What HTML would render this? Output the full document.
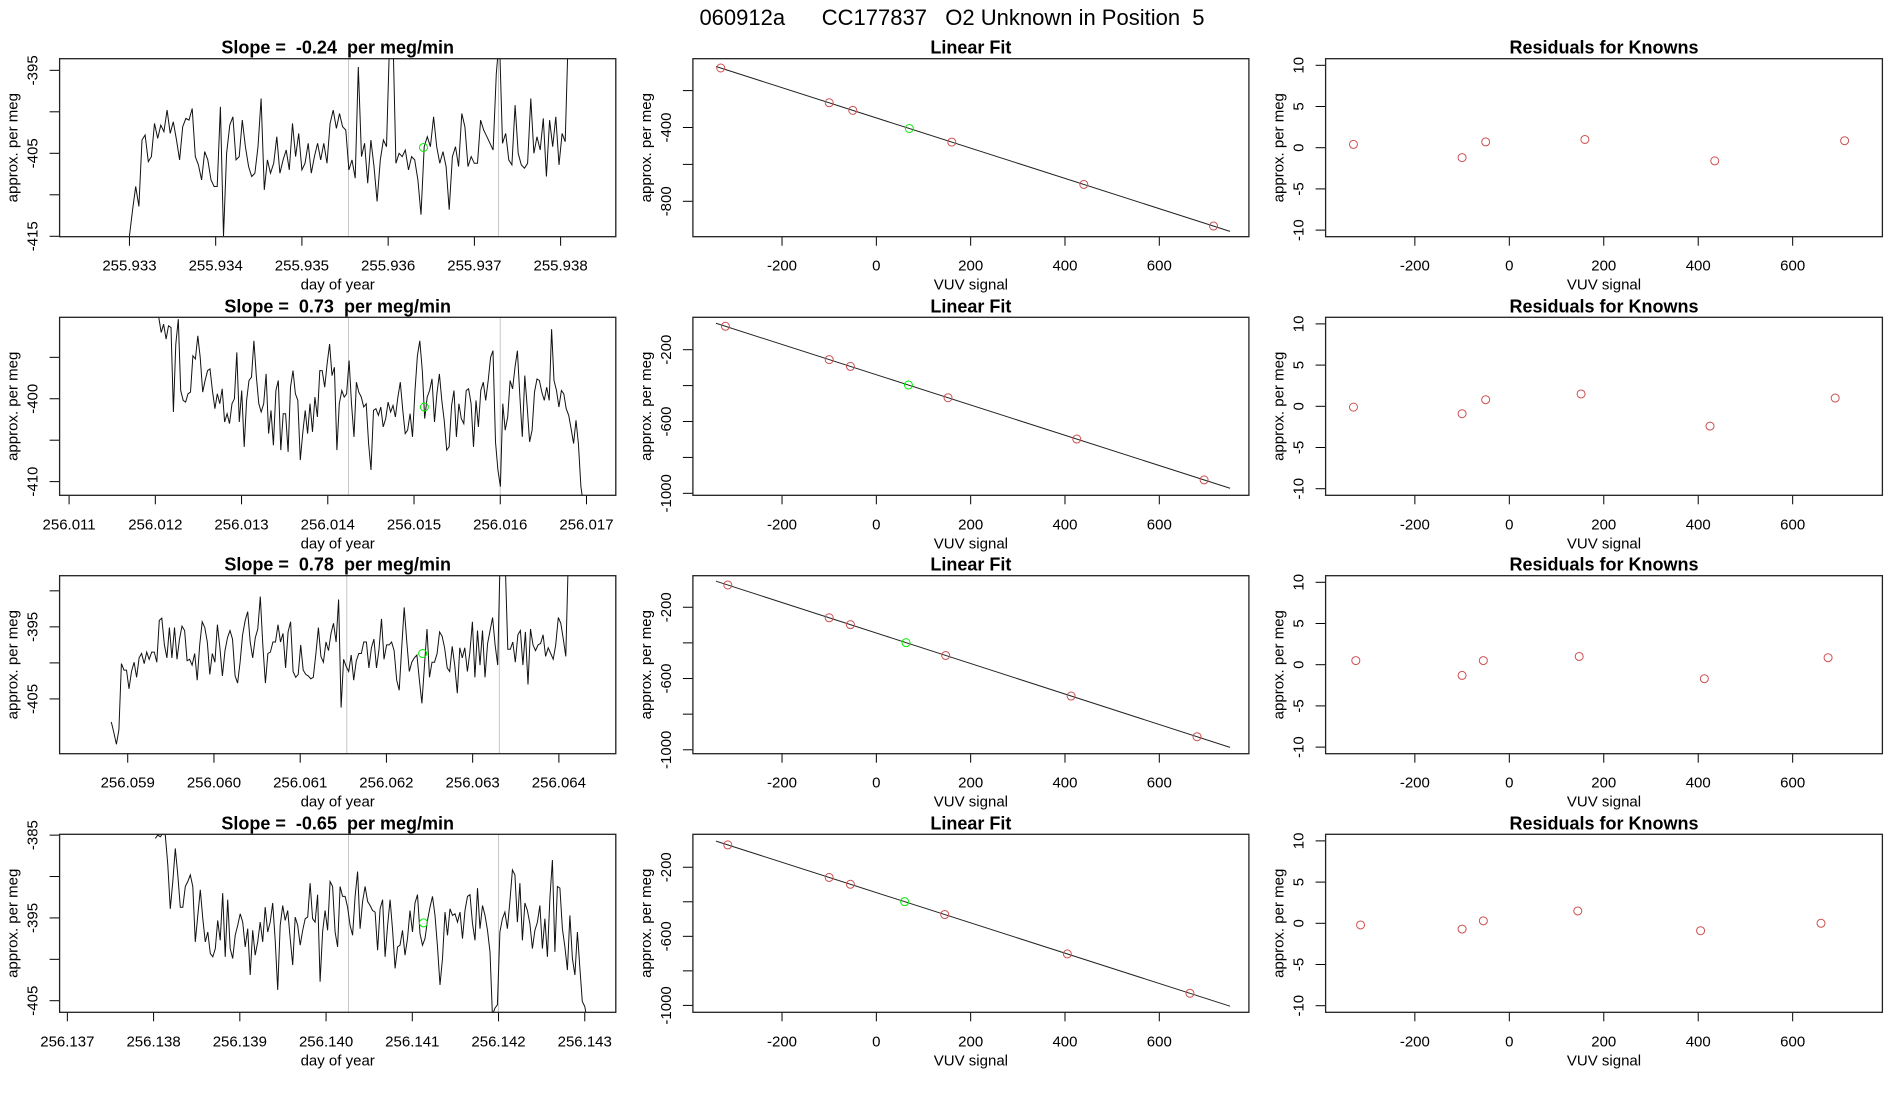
<!DOCTYPE html>
<html><head><meta charset="utf-8"><style>
html,body{margin:0;padding:0;background:#fff;}
svg{display:block;font-family:"Liberation Sans",Arial,sans-serif;}
svg text{white-space:pre;}
</style></head><body>
<svg id="fig" width="1900" height="1100" viewBox="0 0 1900 1100" xmlns="http://www.w3.org/2000/svg">
<rect x="0" y="0" width="1900" height="1100" fill="#fff"/>
<text x="952" y="25" font-size="22" text-anchor="middle" xml:space="preserve">060912a      CC177837   O2 Unknown in Position  5</text>
</svg>
<script>
// ---------- data ----------
const slopes = ["-0.24", "0.73", "0.78", "-0.65"];
const tsStart = [255.933, 256.01204, 256.05881, 256.13802];
const tsEnd = [255.93809, 256.01702, 256.06411, 256.14303];
const ts1 = [-415.0,-411.8,-409.0,-411.4,-403.4,-402.8,-406.0,-405.4,-401.4,-403.2,-401.6,-402.4,-399.8,-402.6,-401.2,-403.4,-405.8,-401.8,-400.8,-401.0,-399.6,-405.4,-406.4,-408.2,-404.8,-405.8,-408.2,-409.0,-409.0,-399.4,-415.0,-405.0,-401.6,-400.6,-405.8,-405.4,-401.0,-404.2,-406.6,-407.8,-407.4,-404.2,-398.4,-409.4,-405.8,-407.4,-406.2,-403.0,-407.4,-405.8,-404.6,-407.0,-401.4,-405.4,-402.6,-407.0,-406.2,-403.8,-407.4,-405.4,-403.8,-405.8,-403.8,-406.2,-401.4,-399.8,-402.0,-400.2,-401.8,-402.2,-407.0,-405.8,-408.0,-394.6,-405.4,-403.8,-408.6,-403.4,-406.6,-410.8,-405.8,-403.4,-404.2,-391.0,-390.0,-406.2,-405.0,-405.4,-404.6,-407.0,-405.4,-405.8,-408.2,-412.4,-404.2,-403.0,-404.2,-400.6,-404.2,-406.2,-404.8,-406.6,-411.8,-405.4,-404.2,-406.6,-400.2,-401.8,-406.6,-405.4,-406.2,-406.2,-401.0,-402.2,-403.0,-403.8,-404.6,-395.4,-391.0,-403.8,-402.6,-405.8,-406.4,-399.2,-405.0,-406.4,-406.8,-406.2,-398.4,-405.0,-403.0,-404.6,-400.8,-407.8,-401.0,-404.2,-400.6,-406.4,-402.6,-403.6,-390.0];
const ts2 = [-390.2,-392.0,-391.0,-392.8,-391.2,-391.4,-401.6,-393.4,-390.4,-399.0,-400.2,-400.4,-399.4,-399.2,-394.8,-395.2,-392.4,-395.0,-399.2,-397.8,-396.6,-396.4,-399.0,-401.2,-399.4,-400.6,-398.8,-402.8,-401.8,-403.0,-400.6,-400.0,-394.4,-402.8,-399.0,-405.8,-400.2,-397.8,-397.4,-393.0,-397.4,-400.6,-401.6,-400.6,-397.0,-404.2,-401.4,-405.6,-399.0,-397.8,-406.2,-401.8,-401.8,-406.4,-398.6,-396.6,-399.4,-400.2,-407.4,-404.2,-401.4,-404.2,-400.6,-404.0,-399.8,-402.2,-396.6,-396.6,-398.6,-395.8,-393.4,-397.2,-396.2,-406.2,-400.6,-399.0,-399.8,-399.4,-395.4,-400.6,-404.6,-398.0,-399.2,-399.8,-401.0,-400.6,-405.4,-408.6,-401.4,-401.2,-402.0,-401.0,-403.4,-402.4,-400.4,-401.6,-400.8,-402.2,-399.8,-398.0,-401.4,-404.2,-403.8,-401.8,-404.6,-399.0,-394.8,-393.0,-396.6,-402.4,-399.8,-399.0,-397.6,-402.8,-399.4,-397.0,-400.2,-402.6,-406.2,-405.8,-400.8,-399.0,-404.6,-400.6,-402.4,-403.0,-399.0,-398.8,-400.6,-405.8,-400.2,-403.4,-399.0,-398.0,-400.2,-397.8,-395.0,-394.2,-405.2,-408.6,-410.6,-400.6,-403.8,-402.2,-397.8,-398.8,-396.2,-394.2,-399.8,-404.6,-397.2,-401.0,-405.2,-403.8,-399.2,-397.6,-397.8,-399.2,-400.2,-398.6,-400.2,-391.6,-397.8,-399.0,-401.0,-399.0,-399.4,-401.2,-402.0,-403.6,-405.4,-402.6,-405.4,-410.6,-412.7,-411.8,-415.0];
const ts3 = [-408.2,-409.7,-411.3,-409.3,-400.1,-401.0,-401.0,-403.6,-401.2,-399.9,-402.0,-399.3,-398.7,-400.1,-398.5,-399.5,-398.5,-398.5,-399.9,-394.1,-393.8,-397.5,-399.3,-395.1,-399.3,-395.1,-399.5,-396.7,-394.9,-395.5,-399.7,-399.5,-400.3,-398.7,-402.4,-397.5,-394.3,-395.1,-397.1,-401.6,-398.7,-399.9,-394.7,-397.9,-401.8,-398.3,-396.5,-395.5,-396.7,-401.8,-402.8,-399.9,-396.1,-394.1,-392.9,-397.1,-399.3,-396.5,-395.3,-390.8,-397.5,-402.8,-398.7,-398.5,-397.1,-397.1,-394.7,-397.1,-395.9,-400.7,-395.7,-394.3,-401.2,-402.0,-401.6,-397.5,-401.0,-401.6,-401.8,-402.2,-402.0,-398.7,-395.1,-399.1,-399.9,-397.1,-398.3,-395.9,-394.5,-397.1,-391.2,-406.2,-399.5,-400.5,-401.2,-398.9,-402.4,-399.7,-398.7,-398.7,-397.1,-397.1,-400.7,-397.9,-396.7,-400.7,-398.1,-393.9,-399.5,-397.5,-397.5,-397.1,-398.3,-402.4,-403.8,-397.9,-392.3,-397.1,-401.2,-399.9,-399.3,-398.9,-402.4,-405.6,-400.5,-395.3,-402.0,-399.9,-399.9,-398.7,-395.7,-396.3,-397.9,-400.7,-401.2,-397.7,-400.3,-404.2,-397.9,-399.3,-397.9,-401.2,-398.5,-394.3,-402.0,-395.5,-400.3,-395.5,-402.0,-397.3,-395.5,-393.7,-397.5,-400.3,-385.0,-385.0,-386.0,-398.1,-398.1,-397.1,-399.9,-396.1,-395.5,-400.3,-395.7,-403.0,-395.3,-397.5,-398.3,-397.5,-397.3,-396.1,-399.1,-397.9,-398.7,-399.5,-397.5,-393.7,-394.5,-396.7,-399.1,-385.0];
const ts4 = [-385.4,-385.0,-385.2,-384.8,-385.0,-388.6,-393.9,-390.6,-386.6,-389.8,-393.7,-393.7,-391.2,-390.6,-389.8,-391.2,-397.9,-394.7,-391.6,-395.1,-397.9,-396.7,-399.3,-399.7,-398.7,-395.3,-397.7,-392.0,-399.7,-392.8,-398.7,-399.9,-397.1,-395.9,-394.5,-395.5,-398.5,-396.3,-401.9,-396.5,-399.5,-397.9,-395.5,-397.9,-393.7,-396.7,-395.5,-393.2,-397.7,-403.7,-395.9,-393.5,-395.3,-394.1,-397.5,-400.7,-394.9,-395.9,-398.3,-396.5,-395.1,-394.9,-390.8,-395.1,-395.5,-392.2,-402.7,-396.7,-394.1,-396.5,-390.6,-391.2,-396.7,-398.5,-391.2,-392.4,-392.4,-393.7,-395.9,-397.1,-392.4,-389.4,-396.3,-393.0,-391.2,-393.0,-393.5,-394.1,-394.3,-398.9,-393.9,-392.8,-399.7,-395.9,-392.8,-396.5,-401.1,-398.5,-398.3,-396.5,-399.5,-397.5,-394.1,-396.7,-393.2,-392.2,-396.9,-398.3,-397.5,-395.3,-393.7,-392.4,-394.7,-398.5,-403.1,-399.9,-394.3,-397.1,-393.9,-394.7,-394.5,-395.5,-394.3,-397.5,-394.1,-392.4,-392.2,-395.7,-397.7,-391.4,-396.3,-393.5,-394.7,-396.5,-399.1,-406.7,-405.9,-405.5,-396.7,-395.1,-394.3,-396.3,-393.0,-389.2,-389.8,-395.5,-390.8,-397.7,-393.2,-394.1,-395.7,-398.7,-396.5,-395.5,-393.5,-398.7,-395.1,-399.7,-392.6,-388.0,-399.1,-391.2,-391.4,-396.3,-398.5,-401.3,-394.7,-399.9,-401.9,-396.7,-401.1,-405.1,-405.7,-407.5];
const tsSeries = [ts1, ts2, ts3, ts4];
const unkTime = [255.93641, 256.01512, 256.06242, 256.14113];
const unkValue = [-404.3, -401.0, -398.7, -395.6];
const refLineA = [255.93554, 256.01424, 256.06154, 256.14026];
const refLineB = [255.93728, 256.01600, 256.06331, 256.14200];
const tsXTicks = [
  [255.933,255.934,255.935,255.936,255.937,255.938],
  [256.011,256.012,256.013,256.014,256.015,256.016,256.017],
  [256.059,256.060,256.061,256.062,256.063,256.064],
  [256.137,256.138,256.139,256.140,256.141,256.142,256.143]];
const tsYTicks = [[-395,-400,-405,-410,-415],[-395,-400,-405,-410],[-390,-395,-400,-405],[-385,-390,-395,-400,-405]];
const tsYLabels = [[-395,-405,-415],[-400,-410],[-395,-405],[-385,-395,-405]];
const tsXDomain = [[255.93219,255.93864],[256.01089,256.01734],[256.05821,256.06466],[256.13691,256.14336]];
const tsYDomain = [[-415.05,-393.6],[-411.65,-390.17],[-412.6,-387.9],[-406.4,-384.9]];

const knownX = [[-330,-100,-50,160,440,715],[-320,-100,-55,152,425,695],[-315,-100,-55,147,413,680],[-315,-100,-55,145,405,665]];
const unkX = [70, 68, 63, 60];
const fitSlope = [-0.82, -0.843, -0.856, -0.877];
const fitIntercept = [-348, -339.4, -344.7, -346.8];
const fitYDomain = [[-992,-27],[-1011,-19.5],[-1022,-22.9],[-1040,-9.2]];
const fitYTicks = [[-200,-400,-600,-800],[-200,-400,-600,-800,-1000],[-200,-400,-600,-800,-1000],[-200,-400,-600,-800,-1000]];
const fitYLabels = [[-400,-800],[-200,-600,-1000],[-200,-600,-1000],[-200,-600,-1000]];
const residX = [[-330,-100,-50,160,435,710],[-330,-100,-50,152,425,690],[-325,-100,-55,148,413,675],[-315,-100,-55,145,405,660]];
const residY = [[0.4,-1.2,0.7,1.0,-1.6,0.85],[-0.1,-0.9,0.8,1.5,-2.4,1.0],[0.5,-1.3,0.5,1.0,-1.7,0.85],[-0.2,-0.7,0.3,1.5,-0.9,0.0]];
const vuvTicks = [-200,0,200,400,600];
const residTicks = [-10,-5,0,5,10];
const vuvDomain = [-389,790];
const residDomain = [-10.8,10.8];

// ---------- layout ----------
const NS = "http://www.w3.org/2000/svg";
const svg = document.getElementById('fig');
const colX = [[59.6,615.8],[692.9,1248.9],[1325.6,1882.4]];
const rowTop = [58.7,317.3,575.7,834.3];
const boxH = 178;

function mk(tag, attrs, parent) {
  const e = document.createElementNS(NS, tag);
  for (const k in attrs) e.setAttribute(k, attrs[k]);
  (parent || svg).appendChild(e);
  return e;
}
function scale(d0, d1, r0, r1) { return v => r0 + (v - d0) * (r1 - r0) / (d1 - d0); }

function panel(r, c, xd, yd, title, xlab, xt, yt, yl, xfmt) {
  const g = mk('g', {});
  
  
  const x0 = colX[c][0], x1 = colX[c][1], y0 = rowTop[r], y1 = y0 + boxH;
  const sx = scale(xd[0], xd[1], x0, x1), sy = scale(yd[0], yd[1], y1, y0);
  const cid = 'clip' + r + c;
  const cp = mk('clipPath', {id: cid}, g);
  mk('rect', {x: x0, y: y0, width: x1 - x0, height: y1 - y0}, cp);
  const plot = mk('g', {'clip-path': 'url(#' + cid + ')'}, g);
  const t = mk('text', {x: (x0 + x1) / 2, y: y0 - 5, 'font-size': 18, 'font-weight': 'bold', 'text-anchor': 'middle', 'xml:space': 'preserve'}, g);
  t.textContent = title;
  
  
  xt.forEach(v => {
    const x = sx(v);
    mk('line', {x1: x, x2: x, y1: y1, y2: y1 + 9, stroke: '#000'}, g);
    const l = mk('text', {x: x, y: y1 + 34, 'font-size': 15, 'text-anchor': 'middle'}, g);
    l.textContent = xfmt(v);
    
    
  });
  yt.forEach(v => {
    const y = sy(v);
    mk('line', {x1: x0 - 10, x2: x0, y1: y, y2: y, stroke: '#000'}, g);
  });
  yl.forEach(v => {
    const y = sy(v), lx = x0 - 22;
    const l = mk('text', {x: lx, y: y, 'font-size': 15, 'text-anchor': 'middle', transform: 'rotate(-90 ' + lx + ' ' + y + ')'}, g);
    l.textContent = String(v);
    
    
  });
  const xl = mk('text', {x: (x0 + x1) / 2, y: y1 + 53, 'font-size': 15, 'text-anchor': 'middle'}, g);
  xl.textContent = xlab;
  
  
  const ylx = x0 - 42, yly = (y0 + y1) / 2;
  const ylab = mk('text', {x: ylx, y: yly, 'font-size': 15, 'text-anchor': 'middle', transform: 'rotate(-90 ' + ylx + ' ' + yly + ')'}, g);
  ylab.textContent = 'approx. per meg';
  
  
  const box = mk('rect', {x: x0, y: y0, width: x1 - x0, height: y1 - y0, fill: 'none', stroke: '#222', 'stroke-width': 1.3}, g);
  
  
  return {g, plot, sx, sy};
}

for (let r = 0; r < 4; r++) {
  const p = panel(r, 0, tsXDomain[r], tsYDomain[r], 'Slope =  ' + slopes[r] + '  per meg/min', 'day of year',
    tsXTicks[r], tsYTicks[r], tsYLabels[r], v => v.toFixed(3));
  [refLineA[r], refLineB[r]].forEach(t => {
    const x = p.sx(t);
    const l = mk('line', {x1: x, x2: x, y1: rowTop[r], y2: rowTop[r] + boxH, stroke: '#c8c8c8'}, p.plot);
    
    
  });
  const vals = tsSeries[r], n = vals.length;
  const pts = vals.map((v, i) => {
    const t = tsStart[r] + (tsEnd[r] - tsStart[r]) * i / (n - 1);
    return p.sx(t).toFixed(1) + ',' + p.sy(v).toFixed(1);
  }).join(' ');
  const pl = mk('polyline', {points: pts, fill: 'none', stroke: '#111', 'stroke-width': 1}, p.plot);
  
  
  const uc = mk('circle', {cx: p.sx(unkTime[r]), cy: p.sy(unkValue[r]), r: 4, fill: 'none', stroke: '#00ee00', 'stroke-width': 1}, p.plot);
  
  

  const q = panel(r, 1, vuvDomain, fitYDomain[r], 'Linear Fit', 'VUV signal', vuvTicks, fitYTicks[r], fitYLabels[r], v => String(v));
  const fx0 = -340, fx1 = 750;
  const fl = mk('line', {x1: q.sx(fx0), y1: q.sy(fitSlope[r] * fx0 + fitIntercept[r]), x2: q.sx(fx1), y2: q.sy(fitSlope[r] * fx1 + fitIntercept[r]), stroke: '#222', 'stroke-width': 1}, q.plot);
  
  
  knownX[r].forEach(x => {
    const c = mk('circle', {cx: q.sx(x), cy: q.sy(fitSlope[r] * x + fitIntercept[r]), r: 4, fill: 'none', stroke: '#cd4f4f', 'stroke-width': 1}, q.plot);
    
    
  });
  const gu = mk('circle', {cx: q.sx(unkX[r]), cy: q.sy(fitSlope[r] * unkX[r] + fitIntercept[r]), r: 4, fill: 'none', stroke: '#00ee00', 'stroke-width': 1}, q.plot);
  
  

  const s = panel(r, 2, vuvDomain, residDomain, 'Residuals for Knowns', 'VUV signal', vuvTicks, residTicks, residTicks, v => String(v));
  residX[r].forEach((x, i) => {
    const c = mk('circle', {cx: s.sx(x), cy: s.sy(residY[r][i]), r: 4, fill: 'none', stroke: '#cd4f4f', 'stroke-width': 1}, s.plot);
    
    
  });
}
</script>
</body></html>
